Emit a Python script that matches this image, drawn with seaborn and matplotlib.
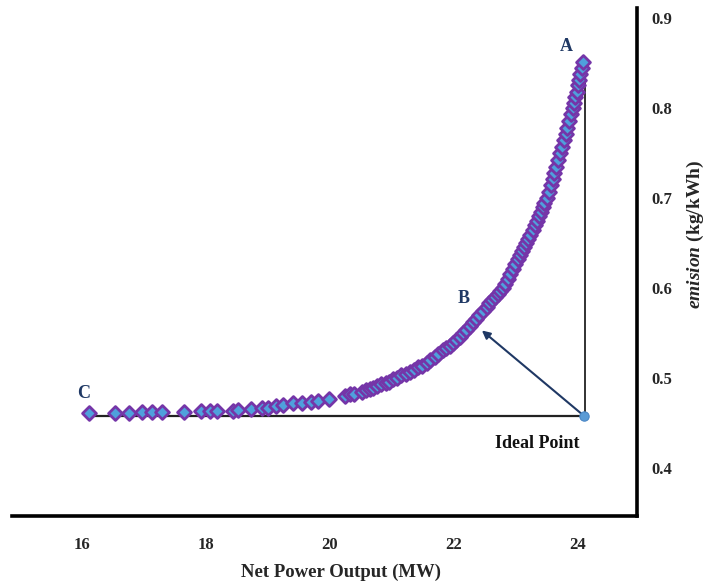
import matplotlib
matplotlib.use("Agg")
import matplotlib.pyplot as plt
import pandas as pd
import seaborn as sns

# Pareto front: net power output (MW) vs. emission (kg/kWh)
power_mw = [
    16.11, 16.53, 16.76, 16.97, 17.13, 17.29, 17.65, 17.92, 18.06, 18.18,
    18.44, 18.52, 18.73, 18.90, 19.00, 19.13, 19.24, 19.40, 19.55, 19.69,
    19.81, 19.98, 20.24, 20.32, 20.39, 20.52, 20.58,
    20.64, 20.70, 20.76, 20.83, 20.90, 20.95, 21.02, 21.08, 21.15, 21.22,
    21.29, 21.35, 21.42, 21.49, 21.56, 21.62, 21.69, 21.75, 21.82,
    21.87, 21.93, 21.98, 22.04, 22.10, 22.15, 22.20, 22.26, 22.31, 22.36,
    22.41, 22.47, 22.53,
    22.57, 22.62, 22.66, 22.71, 22.75, 22.79, 22.83, 22.87, 22.91, 22.95,
    22.99, 23.03, 23.06,
    23.09, 23.13, 23.16, 23.20, 23.23, 23.27, 23.31, 23.34, 23.37, 23.40,
    23.43, 23.46, 23.50,
    23.53, 23.56, 23.59, 23.62, 23.65, 23.68, 23.71, 23.74, 23.77, 23.80,
    23.83, 23.86, 23.89, 23.92, 23.94, 23.96, 23.98, 24.00, 24.02, 24.04,
    24.06, 24.08,
]
emission = [
    0.461, 0.461, 0.461, 0.462, 0.462, 0.462, 0.462, 0.464, 0.464, 0.464,
    0.464, 0.465, 0.466, 0.467, 0.467, 0.469, 0.470, 0.472, 0.473, 0.474,
    0.475, 0.477, 0.480, 0.482, 0.482, 0.485, 0.487,
    0.488, 0.489, 0.491, 0.493, 0.495, 0.496, 0.499, 0.500, 0.503, 0.505,
    0.507, 0.509, 0.512, 0.514, 0.517, 0.520, 0.524, 0.527, 0.531,
    0.533, 0.536, 0.539, 0.542, 0.546, 0.550, 0.554, 0.558, 0.562, 0.566,
    0.570, 0.575, 0.579,
    0.583, 0.587, 0.590, 0.594, 0.597, 0.600, 0.605, 0.610, 0.616, 0.621,
    0.627, 0.632, 0.637,
    0.641, 0.646, 0.650, 0.655, 0.659, 0.665, 0.670, 0.675, 0.680, 0.685,
    0.690, 0.695, 0.700,
    0.707, 0.714, 0.721, 0.728, 0.735, 0.742, 0.750, 0.757, 0.764, 0.771,
    0.778, 0.785, 0.793, 0.800, 0.806, 0.812, 0.818, 0.825, 0.831, 0.838,
    0.844, 0.851,
]

ideal_power = 24.10
ideal_emission = 0.458
arrow_target = (22.45, 0.553)

x_ticks = [16, 18, 20, 22, 24]
x_tick_labels = ["16", "18", "20", "22", "24"]
y_ticks = [0.4, 0.5, 0.6, 0.7, 0.8, 0.9]
y_tick_labels = ["0.4", "0.5", "0.6", "0.7", "0.8", "0.9"]

point_labels = ["A", "B", "C"]
point_label_pos = [(23.82, 0.868), (22.15, 0.589), (16.02, 0.483)]

navy = "#1F3864"

sns.set_theme(style="white")
plt.rcParams["font.family"] = ["Liberation Serif", "DejaVu Serif"]
plt.rcParams["mathtext.fontset"] = "custom"
plt.rcParams["mathtext.it"] = "Liberation Serif:italic:bold"
plt.rcParams["mathtext.rm"] = "Liberation Serif:bold"

W, H = 708, 585
fig = plt.figure(figsize=(W / 100, H / 100), dpi=100)
ax = fig.add_axes([12 / W, 1 - 516 / H, (637 - 12) / W, (516 - 8) / H])

df = pd.DataFrame({"power": power_mw, "emission": emission})

# Construction lines from the ideal point
ax.plot([power_mw[0], ideal_power], [ideal_emission, ideal_emission],
        color="#222222", lw=1.6, zorder=1)
ax.plot([ideal_power + 0.02, ideal_power + 0.02], [ideal_emission, emission[-1] + 0.004],
        color="#222222", lw=1.3, zorder=1)

sns.scatterplot(data=df, x="power", y="emission", marker="D", s=50,
                color="#4FA0DC", edgecolor="#7535A8", linewidth=2.0,
                ax=ax, zorder=3, legend=False)

ax.scatter([ideal_power], [ideal_emission], s=45, color="#5B9BD5",
           edgecolor="#4A86C5", linewidth=0.8, zorder=4)

ax.annotate("", xy=arrow_target, xytext=(ideal_power, ideal_emission),
            arrowprops=dict(arrowstyle="-|>", color=navy, lw=1.5,
                            mutation_scale=12, shrinkA=0, shrinkB=0),
            zorder=2)

for lab, (px, py) in zip(point_labels, point_label_pos):
    ax.text(px, py, lab, color=navy, fontsize=13, fontweight="bold",
            ha="center", va="center")

ax.text(23.34, 0.428, "Ideal Point", color="#111111", fontsize=13,
        fontweight="bold", ha="center", va="center")

ax.set_xlim(14.871, 24.952)
ax.set_ylim(0.347, 0.911)
ax.set_xticks(x_ticks)
ax.set_xticklabels(x_tick_labels)
ax.set_yticks(y_ticks)
ax.set_yticklabels(y_tick_labels)
ax.yaxis.tick_right()

for side in ["left", "top"]:
    ax.spines[side].set_visible(False)
for side in ["bottom", "right"]:
    ax.spines[side].set_visible(True)
    ax.spines[side].set_color("black")
    ax.spines[side].set_linewidth(2.6)

ax.tick_params(axis="x", length=0, pad=15, labelsize=12)
ax.tick_params(axis="y", length=0, pad=10, labelsize=12)
for t in ax.get_xticklabels() + ax.get_yticklabels():
    t.set_fontweight("bold")

ax.set_xlabel("")
ax.set_ylabel("")
fig.text(341 / W, 1 - 572 / H, "Net Power Output (MW)", fontsize=13.5,
         fontweight="bold", ha="center", va="center")
fig.text(695 / W, 1 - 234 / H, r"$emision$ (kg/kWh)", rotation=90,
         fontsize=14, fontweight="bold", ha="center", va="center")

fig.savefig("out.png", dpi=100)
